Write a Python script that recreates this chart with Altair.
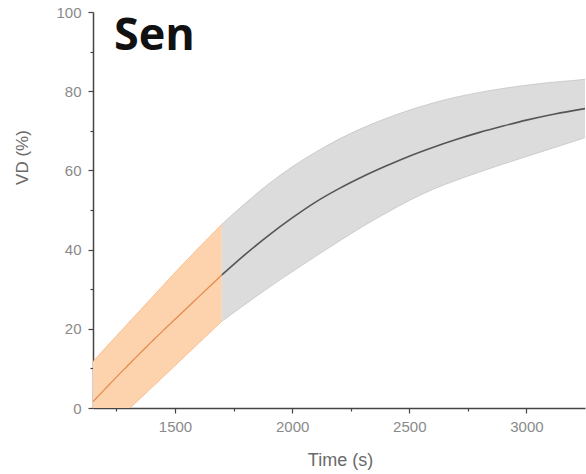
import altair as alt
import pandas as pd

# Orange (observed) segment
t_orange = [1150, 1200, 1250, 1300, 1350, 1400, 1450, 1500, 1550, 1600, 1650, 1700]
center_orange = [1.6, 4.7, 7.8, 10.8, 13.8, 16.7, 19.6, 22.4, 25.2, 28.0, 30.8, 33.6]
upper_orange = [11.7, 15.0, 18.2, 21.4, 24.6, 27.8, 31.0, 34.2, 37.3, 40.4, 43.4, 46.4]
lower_orange = [-8.8, -6.0, -3.2, -0.4, 2.3, 5.1, 7.9, 10.7, 13.5, 16.3, 19.1, 21.9]

# Gray (projected) segment
t_gray = [1700, 1800, 1900, 2000, 2100, 2200, 2300, 2400, 2500, 2600, 2700, 2800,
          2900, 3000, 3100, 3200, 3250]
center_gray = [33.6, 38.8, 43.6, 48.0, 52.0, 55.4, 58.4, 61.1, 63.6, 65.8, 67.8, 69.6,
               71.2, 72.7, 74.0, 75.1, 75.6]
upper_gray = [46.4, 51.7, 56.6, 60.9, 64.6, 67.9, 70.7, 73.1, 75.2, 77.0, 78.5, 79.7,
              80.7, 81.5, 82.2, 82.7, 83.0]
lower_gray = [21.9, 26.2, 30.4, 34.4, 38.3, 42.1, 45.8, 49.2, 52.4, 55.2, 57.5, 59.6,
              61.6, 63.5, 65.4, 67.3, 68.3]

x_ticks = [1250, 1500, 1750, 2000, 2250, 2500, 2750, 3000]
y_ticks = [0, 10, 20, 30, 40, 50, 60, 70, 80, 90, 100]
panel_label = "Sen"

df_o = pd.DataFrame({"t": t_orange, "c": center_orange, "u": upper_orange, "l": lower_orange})
df_g = pd.DataFrame({"t": t_gray, "c": center_gray, "u": upper_gray, "l": lower_gray})

FONT = "Liberation Sans"
xscale = alt.Scale(domain=[1150, 3250], nice=False, zero=False)
yscale = alt.Scale(domain=[0, 100], nice=False)

x_axis = alt.Axis(
    title="Time (s)", values=x_ticks, format="d",
    labelExpr="datum.value % 500 === 0 ? datum.label : ''",
    tickSize={"condition": {"test": "datum.value % 500 === 0", "value": 5}, "value": 3},
    grid=False, labelFont=FONT, labelFontSize=15, labelColor="#8a8a8a",
    labelPadding=6, titleFont=FONT, titleFontSize=18, titleFontWeight="normal",
    titleColor="#6a6a6a", titleX=247, titleY=52, titleBaseline="middle",
    domainColor="#444444", domainWidth=1.5, tickColor="#444444", tickWidth=1.2,
)
y_axis = alt.Axis(
    title="VD (%)", values=y_ticks,
    labelExpr="datum.value % 20 === 0 ? datum.label : ''",
    tickSize={"condition": {"test": "datum.value % 20 === 0", "value": 5}, "value": 3},
    grid=False, labelFont=FONT, labelFontSize=15, labelColor="#8a8a8a",
    labelPadding=7, titleFont=FONT, titleFontSize=17, titleFontWeight="normal",
    titleColor="#6a6a6a", titleX=-71, titleY=145, titleAngle=-90,
    titleBaseline="middle", titleAlign="center",
    domainColor="#444444", domainWidth=1.5, tickColor="#444444", tickWidth=1.2,
)

X = alt.X("t:Q", scale=xscale, axis=x_axis)


def band(df, fill):
    return alt.Chart(df).mark_area(color=fill, opacity=1, clip=True,
                                   interpolate="monotone").encode(
        x=X, y=alt.Y("u:Q", scale=yscale, axis=y_axis), y2="l:Q")


def line(df, field, color, width):
    return alt.Chart(df).mark_line(color=color, strokeWidth=width, clip=True,
                                   interpolate="monotone").encode(
        x=X, y=alt.Y(f"{field}:Q", scale=yscale, axis=y_axis))


layers = [
    band(df_o, "#FDD3AE"),
    band(df_g, "#DCDCDC"),
    line(df_o, "u", "#F6B786", 0.8),
    line(df_o, "l", "#F6B786", 0.8),
    line(df_g, "u", "#C4C4C4", 0.8),
    line(df_g, "l", "#C4C4C4", 0.8),
    line(df_o, "c", "#E58A4E", 1.3),
    line(df_g, "c", "#555555", 1.6),
]

label = alt.Chart(pd.DataFrame({"txt": [panel_label]})).mark_text(
    font="Open Sans", fontSize=45, fontWeight="bold", color="#111111",
    align="left", baseline="middle"
).encode(x=alt.value(21), y=alt.value(24), text="txt:N")

chart = alt.layer(*layers, label).properties(
    width=492, height=396,
    autosize=alt.AutoSizeParams(type="none"),
    padding={"left": 93, "top": 12, "right": 1, "bottom": 66},
).configure(background="white").configure_view(stroke=None, strokeWidth=0)

chart.save("out.html", embed_options={"renderer": "svg", "actions": False})
